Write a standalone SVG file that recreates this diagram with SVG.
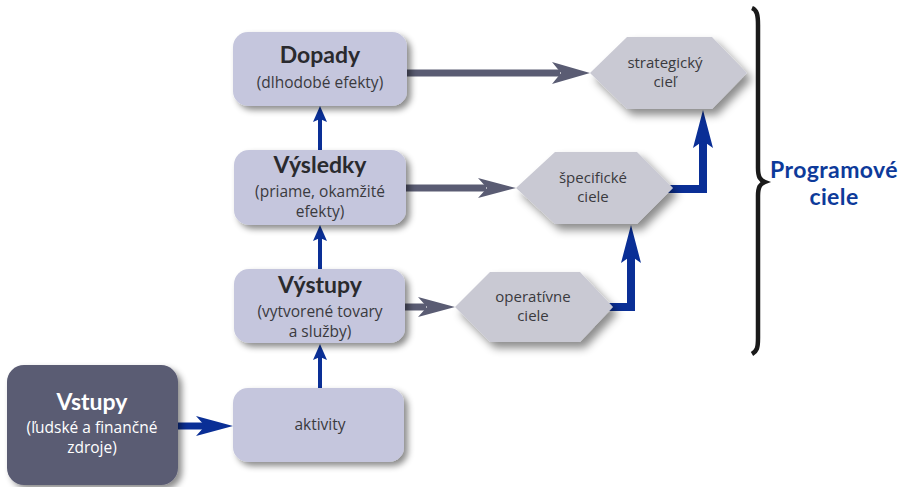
<svg xmlns="http://www.w3.org/2000/svg" width="911" height="487" viewBox="0 0 911 487">
<defs>
<filter id="sh" x="-20%" y="-20%" width="150%" height="150%">
<feDropShadow dx="4" dy="4" stdDeviation="3" flood-color="#000" flood-opacity="0.45"/>
</filter>
<filter id="shh" x="-20%" y="-30%" width="150%" height="170%">
<feDropShadow dx="5" dy="6" stdDeviation="4" flood-color="#000" flood-opacity="0.45"/>
</filter>
</defs>
<style>
.box{fill:#c5c6dd;filter:url(#sh)}
.dark{fill:#5a5b73;filter:url(#sh)}
.hex{fill:#c9c9d3;filter:url(#shh)}
.t{font-family:Lato,"Open Sans",sans-serif;font-weight:bold;font-size:23px;fill:#2a2a2e;text-anchor:middle}
.s{font-family:"Open Sans","Noto Sans",sans-serif;font-size:15.5px;fill:#3a3a3e;text-anchor:middle}
.h{font-family:"Open Sans","Noto Sans",sans-serif;font-size:15px;fill:#3a3a3e;text-anchor:middle}
.w{fill:#ffffff}
.gl{stroke:#5a5c73;stroke-width:7;fill:none}
.ga{fill:#5a5c73}
.bl{stroke:#0a2f96;fill:none;stroke-linejoin:miter}
.ba{fill:#0a2f96}
.pc{font-family:Lato,"Open Sans",sans-serif;font-weight:bold;font-size:23px;letter-spacing:0.4px;fill:#0d3a9a;text-anchor:middle}
</style>
<rect width="911" height="487" fill="#ffffff"/>

<g id="connectors">
<line class="gl" x1="405" y1="73" x2="560" y2="73"/>
<path class="ga" d="M590,73 L552,62 L561,73 L552,84 Z"/>
<line class="gl" x1="404" y1="188" x2="486" y2="188"/>
<path class="ga" d="M516,188 L478,178 L487,188 L478,198 Z"/>
<line class="gl" x1="403" y1="307" x2="426" y2="307"/>
<path class="ga" d="M455,307 L418,297 L427,307 L418,317 Z"/>

<line class="bl" stroke-width="4" x1="320" y1="150" x2="320" y2="118"/>
<path class="ba" d="M320,106 L313,122 L320,119 L327,122 Z"/>
<line class="bl" stroke-width="4" x1="320" y1="269" x2="320" y2="237"/>
<path class="ba" d="M320,225 L313,241 L320,238 L327,241 Z"/>
<line class="bl" stroke-width="4" x1="320" y1="388" x2="320" y2="356"/>
<path class="ba" d="M320,344 L313,360 L320,357 L327,360 Z"/>

<line class="bl" stroke-width="7" x1="176" y1="426" x2="205" y2="426"/>
<path class="ba" d="M233,426 L196,416 L205,426 L196,436 Z"/>

<polyline class="bl" stroke-width="8" points="608,307 631,307 631,254"/>
<path class="ba" d="M631,225 L621,263 L631,256 L641,263 Z"/>
<polyline class="bl" stroke-width="8" points="668,189 703,189 703,139"/>
<path class="ba" d="M703,110 L693,148 L703,141 L713,148 Z"/>
</g>

<g id="dopady">
<rect class="box" x="233" y="32" width="174" height="74" rx="15"/>
<text class="t" x="320" y="63">Dopady</text>
<text class="s" x="320" y="88">(dlhodobé efekty)</text>
</g>
<g id="vysledky">
<rect class="box" x="234" y="150" width="172" height="75" rx="15"/>
<text class="t" x="320" y="173">Výsledky</text>
<text class="s" x="320" y="197">(priame, okamžité</text>
<text class="s" x="320" y="217">efekty)</text>
</g>
<g id="vystupy">
<rect class="box" x="234" y="269" width="171" height="74" rx="15"/>
<text class="t" x="320" y="293">Výstupy</text>
<text class="s" x="320" y="317">(vytvorené tovary</text>
<text class="s" x="320" y="337">a služby)</text>
</g>
<g id="aktivity">
<rect class="box" x="233" y="388" width="171" height="74" rx="15"/>
<text class="s" x="320" y="430">aktivity</text>
</g>
<g id="vstupy">
<rect class="dark" x="7" y="365" width="171" height="120" rx="17"/>
<text class="t w" x="92" y="410">Vstupy</text>
<text class="s w" x="92" y="433">(ľudské a finančné</text>
<text class="s w" x="92" y="453">zdroje)</text>
</g>
<g id="strategicky">
<polygon class="hex" points="590,73 627,37 712,37 747,73 712,109 627,109"/>
<text class="h" x="665" y="68">strategický</text>
<text class="h" x="665" y="87">cieľ</text>
</g>
<g id="specificke">
<polygon class="hex" points="516,188 555,152 637,152 673,188 637,224 555,224"/>
<text class="h" x="593" y="183">špecifické</text>
<text class="h" x="593" y="202">ciele</text>
</g>
<g id="operativne">
<polygon class="hex" points="455,307 490,272 580,272 613,307 580,342 490,342"/>
<text class="h" x="533" y="302">operatívne</text>
<text class="h" x="533" y="321">ciele</text>
</g>
<g id="programove">
<path d="M752,8 C757,10 758,15 758,25 L758,168 C758,177 760,180 765,182 C760,184 758,187 758,196 L758,338 C758,348 757,351 752,354" fill="none" stroke="#1a1a1a" stroke-width="4.5"/>
<text class="pc" x="834" y="178">Programové</text>
<text class="pc" x="834" y="205">ciele</text>
</g>
</svg>
